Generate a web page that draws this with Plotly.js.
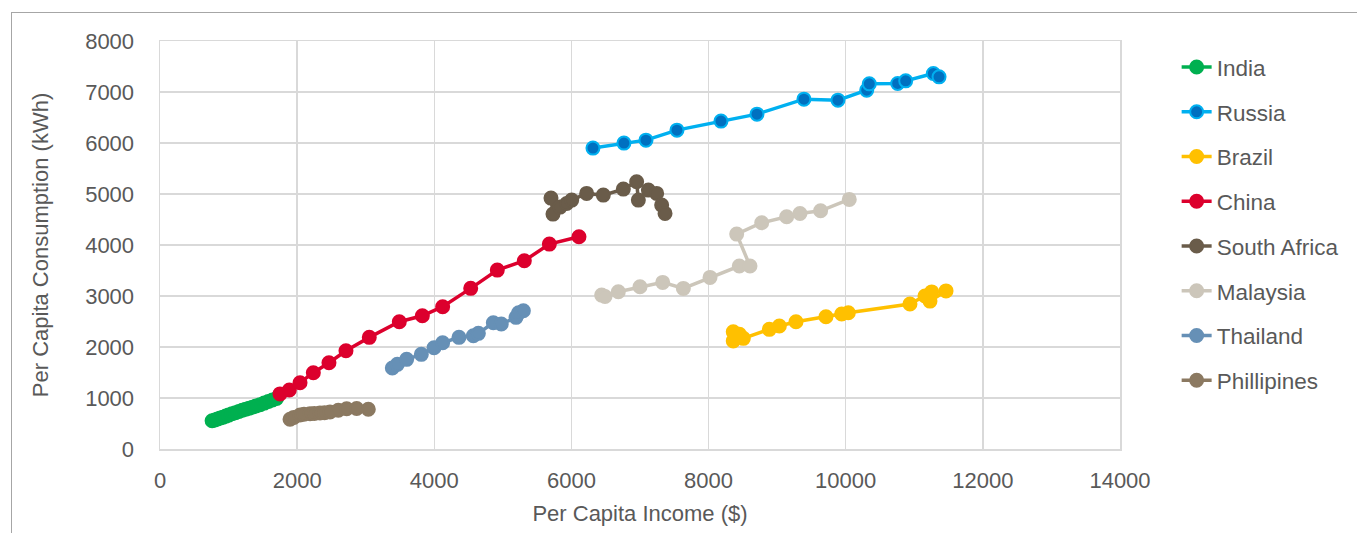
<!DOCTYPE html>
<html>
<head>
<meta charset="utf-8">
<script src="https://cdn.plot.ly/plotly-3.0.1.min.js"></script>
<style>
  html, body { margin: 0; padding: 0; background: #ffffff; }
  #frame { position: absolute; left: 11px; top: 12px; width: 1400px; height: 600px;
           border-left: 1px solid #a6a6a6; border-top: 1px solid #a6a6a6; pointer-events: none; }
  #chart { width: 1357px; height: 533px; }
</style>
</head>
<body>
<div id="chart"></div>
<div id="frame"></div>
<script>
// ---- data ----
const countries = ["India", "Russia", "Brazil", "China", "South Africa", "Malaysia", "Thailand", "Phillipines"];

const indiaX = [760, 800, 840, 880, 920, 960, 1000, 1050, 1100, 1150, 1200, 1250, 1300, 1350, 1400, 1460, 1520, 1580, 1640, 1700];
const indiaY = [555, 570, 590, 610, 625, 645, 665, 690, 710, 735, 760, 780, 800, 820, 845, 870, 900, 930, 960, 990];

const russiaX = [6314, 6766, 7087, 7539, 8181, 8706, 9391, 9887, 10306, 10344, 10758, 10875, 11278, 11361];
const russiaY = [5900, 5998, 6056, 6252, 6429, 6566, 6860, 6840, 7036, 7160, 7167, 7219, 7363, 7297];

const brazilX = [8360, 8450, 8360, 8507, 8886, 9032, 9275, 9712, 9941, 10038, 10937, 11156, 11254, 11229, 11463];
const brazilY = [2300, 2250, 2120, 2170, 2346, 2411, 2496, 2594, 2646, 2672, 2842, 2999, 3080, 2900, 3100];

const chinaX = [1750, 1886, 2042, 2236, 2464, 2712, 3052, 3490, 3826, 4122, 4531, 4919, 5313, 5678, 6110];
const chinaY = [1080, 1156, 1300, 1496, 1692, 1927, 2189, 2496, 2613, 2790, 3150, 3508, 3691, 4018, 4161];

const southAfricaX = [5702, 5731, 5833, 5931, 6004, 6222, 6465, 6757, 6951, 6976, 7122, 7243, 7316, 7365];
const southAfricaY = [4920, 4606, 4743, 4815, 4880, 5012, 4978, 5096, 5239, 4880, 5076, 5012, 4782, 4620];

const malaysiaX = [6441, 6490, 6684, 7000, 7331, 7632, 8021, 8448, 8604, 8410, 8775, 9139, 9333, 9634, 10052];
const malaysiaY = [3018, 2990, 3084, 3182, 3267, 3149, 3365, 3587, 3587, 4214, 4436, 4553, 4619, 4671, 4894];

const thailandX = [3388, 3461, 3597, 3811, 3996, 4122, 4360, 4570, 4643, 4861, 4977, 5192, 5230, 5299];
const thailandY = [1589, 1660, 1758, 1856, 1986, 2084, 2189, 2221, 2268, 2476, 2450, 2581, 2670, 2711];

const phillipinesX = [1896, 1950, 2042, 2100, 2188, 2250, 2333, 2400, 2479, 2600, 2722, 2868, 3038];
const phillipinesY = [582, 620, 666, 680, 690, 695, 705, 712, 725, 760, 790, 795, 780];

const xTickVals = [0, 2000, 4000, 6000, 8000, 10000, 12000, 14000];
const yTickVals = [0, 1000, 2000, 3000, 4000, 5000, 6000, 7000, 8000];

// ---- styling ----
const series = [
  {x: indiaX, y: indiaY, line: "#00b050", fill: "#00b050", edge: "#00b050"},
  {x: russiaX, y: russiaY, line: "#00b0f0", fill: "#0070c0", edge: "#00b0f0"},
  {x: brazilX, y: brazilY, line: "#ffc000", fill: "#ffc000", edge: "#ffc000"},
  {x: chinaX, y: chinaY, line: "#dc002d", fill: "#dc002d", edge: "#dc002d"},
  {x: southAfricaX, y: southAfricaY, line: "#6a5c4a", fill: "#6a5c4a", edge: "#6a5c4a"},
  {x: malaysiaX, y: malaysiaY, line: "#ccc6ba", fill: "#ccc6ba", edge: "#ccc6ba"},
  {x: thailandX, y: thailandY, line: "#6690b6", fill: "#6690b6", edge: "#6690b6"},
  {x: phillipinesX, y: phillipinesY, line: "#8b7961", fill: "#8b7961", edge: "#8b7961"}
];

const traces = series.map((s, i) => ({
  type: "scatter",
  mode: "lines+markers",
  name: countries[i],
  legendgroup: "g" + i,
  x: s.x,
  y: s.y,
  line: {color: s.line, width: 3.5},
  marker: {symbol: "circle", size: 13, color: s.fill, line: {color: s.edge, width: 2}}
}));

const FONT = "Liberation Sans, Arial, sans-serif";
const TXT = "#595959";

const layout = {
  width: 1357,
  height: 533,
  paper_bgcolor: "#ffffff",
  plot_bgcolor: "#ffffff",
  margin: {l: 160, r: 237, t: 41, b: 84},
  showlegend: true,
  legend: {
    x: 1.059, xanchor: "left", y: 0.988, yanchor: "top",
    font: {family: FONT, size: 22.5, color: TXT},
    tracegroupgap: 12.5,
    bgcolor: "rgba(0,0,0,0)"
  },
  xaxis: {
    range: [0, 14000],
    tickvals: xTickVals,
    ticktext: xTickVals.map(String),
    showgrid: true, gridcolor: "#d9d9d9", gridwidth: 1.5,
    zeroline: false,
    showline: true, linecolor: "#d9d9d9", linewidth: 1.5, mirror: true,
    ticks: "", ticklabelstandoff: 11,
    tickfont: {family: FONT, size: 22, color: TXT},
    title: {text: "Per Capita Income ($)", font: {family: FONT, size: 22, color: TXT}, standoff: 13}
  },
  yaxis: {
    range: [0, 8000],
    tickvals: yTickVals,
    ticktext: yTickVals.map(String),
    showgrid: true, gridcolor: "#d9d9d9", gridwidth: 1.5,
    zeroline: false,
    showline: true, linecolor: "#d9d9d9", linewidth: 1.5, mirror: true,
    ticks: "", ticklabelstandoff: 20,
    tickfont: {family: FONT, size: 22, color: TXT},
    title: {text: "Per Capita Consumption (kWh)", font: {family: FONT, size: 22, color: TXT}, standoff: 30}
  }
};

Plotly.newPlot("chart", traces, layout, {displayModeBar: false, staticPlot: true});
</script>
</body>
</html>
